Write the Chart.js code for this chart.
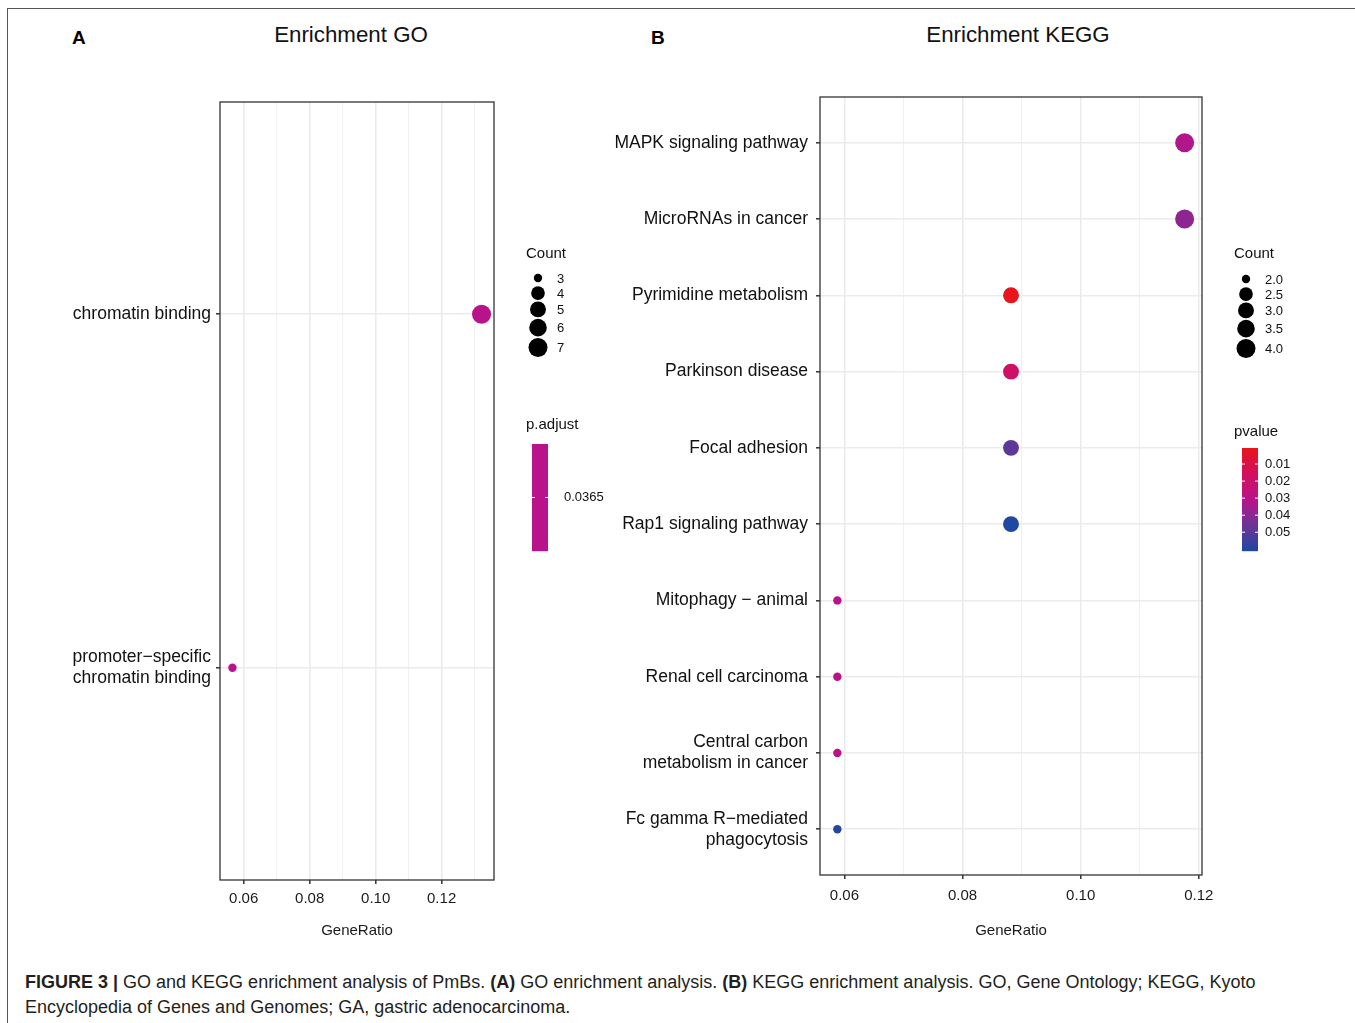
<!DOCTYPE html>
<html>
<head>
<meta charset="utf-8">
<script src="https://cdn.jsdelivr.net/npm/chart.js@4.4.0/dist/chart.umd.min.js"></script>
<style>
  html, body { margin: 0; padding: 0; background: #fff; }
  #page { position: relative; width: 1355px; height: 1023px; overflow: hidden;
          font-family: "Liberation Sans", Arial, sans-serif; color: #111; }
  #frame { position: absolute; left: 7px; top: 8px; right: -2px; bottom: -2px;
           border-top: 1.5px solid #555; border-left: 1.5px solid #555; }
  canvas { position: absolute; top: 0; }
  .title { position: absolute; font-size: 22.3px; transform: translate(-50%, -50%); white-space: nowrap; color: #111; }
  .tag { position: absolute; font-size: 19px; font-weight: bold; transform: translateY(-50%); color: #000; }
  .cap { position: absolute; left: 25px; font-size: 18px; white-space: nowrap; transform: translateY(-50%); color: #231f20; }
</style>
</head>
<body>
<div id="page">
  <div id="frame"></div>
  <div class="tag" style="left:72px; top:38px;">A</div>
  <div class="title" style="left:351px; top:35px;">Enrichment GO</div>
  <div class="tag" style="left:651px; top:38px;">B</div>
  <div class="title" style="left:1018px; top:35px;">Enrichment KEGG</div>
  <canvas id="goChart" style="left:0px;" width="640" height="960"></canvas>
  <canvas id="keggChart" style="left:590px;" width="765" height="960"></canvas>
  <div class="cap" style="top:982px;"><b>FIGURE 3 |</b> GO and KEGG enrichment analysis of PmBs. <b>(A)</b> GO enrichment analysis. <b>(B)</b> KEGG enrichment analysis. GO, Gene Ontology; KEGG, Kyoto</div>
  <div class="cap" style="top:1007px;">Encyclopedia of Genes and Genomes; GA, gastric adenocarcinoma.</div>
</div>

<script>
// ---- GO enrichment ----
const goTerms = ['chromatin binding', ['promoter\u2212specific', 'chromatin binding']];
const goRatio = [0.1321, 0.0566];
const goCount = [7, 3];
const goPadj = [0.0365, 0.0365];
const goCountBreaks = [3, 4, 5, 6, 7];
const goColorBreaks = [0.0365];

// ---- KEGG enrichment ----
const keggTerms = [
  'MAPK signaling pathway',
  'MicroRNAs in cancer',
  'Pyrimidine metabolism',
  'Parkinson disease',
  'Focal adhesion',
  'Rap1 signaling pathway',
  'Mitophagy \u2212 animal',
  'Renal cell carcinoma',
  ['Central carbon', 'metabolism in cancer'],
  ['Fc gamma R\u2212mediated', 'phagocytosis']
];
const keggRatio = [0.1176, 0.1176, 0.0882, 0.0882, 0.0882, 0.0882, 0.0588, 0.0588, 0.0588, 0.0588];
const keggCount = [4, 4, 3, 3, 3, 3, 2, 2, 2, 2];
const keggPvalue = [0.0320, 0.0393, 0.0006, 0.0187, 0.0489, 0.0610, 0.0296, 0.0302, 0.0302, 0.0598];
const keggCountBreaks = [2.0, 2.5, 3.0, 3.5, 4.0];
const keggColorBreaks = [0.01, 0.02, 0.03, 0.04, 0.05];

// GeneRatio tick values: even hundredths are labelled, odd ones are minor grid lines
const goXGrid = [0.06, 0.07, 0.08, 0.09, 0.10, 0.11, 0.12, 0.13];
const keggXGrid = [0.06, 0.07, 0.08, 0.09, 0.10, 0.11, 0.12];

// low p-value = red, high = blue
const rampStops = ['#E8141E', '#D3105E', '#B8138A', '#6E3496', '#1F48A0'];
function hexToRgb(h) { return [1, 3, 5].map(i => parseInt(h.slice(i, i + 2), 16)); }
function rampColor(t) {
  t = Math.max(0, Math.min(1, t));
  const seg = (rampStops.length - 1) * t;
  const i = Math.min(Math.floor(seg), rampStops.length - 2);
  const f = seg - i;
  const a = hexToRgb(rampStops[i]), b = hexToRgb(rampStops[i + 1]);
  return 'rgb(' + a.map((v, k) => Math.round(v + (b[k] - v) * f)).join(',') + ')';
}

// point radius grows with sqrt of the rescaled count
function sizeScale(lo, hi) {
  return c => 4.2 + Math.sqrt(hi > lo ? (c - lo) / (hi - lo) : 1) * 5.3;
}

const AXIS_FONT = 'Liberation Sans';
const isMajor = v => Math.round(v * 100) % 2 === 0;

// panel border on all four sides
const panelBorder = {
  id: 'panelBorder',
  afterDraw(chart) {
    const { ctx, chartArea: a } = chart;
    ctx.save();
    ctx.strokeStyle = '#333';
    ctx.lineWidth = 1.3;
    ctx.strokeRect(a.left, a.top, a.right - a.left, a.bottom - a.top);
    ctx.restore();
  }
};

// size legend + colour bar to the right of the panel
const sideLegend = {
  id: 'sideLegend',
  afterDraw(chart, args, o) {
    const { ctx, chartArea: a } = chart;
    const x0 = a.right;
    ctx.save();
    ctx.fillStyle = '#111';
    ctx.textBaseline = 'middle';
    ctx.textAlign = 'left';
    // size legend
    ctx.font = '15px ' + AXIS_FONT;
    ctx.fillText('Count', x0 + 32, o.countTitleY);
    let y = o.countStartY, prevH = null;
    o.countBreaks.forEach(b => {
      const r = o.radius(b);
      const h = Math.max(15, 2 * r + 1.5);
      if (prevH !== null) y += (prevH + h) / 2;
      prevH = h;
      ctx.fillStyle = '#000';
      ctx.beginPath();
      ctx.arc(x0 + 44, y, r, 0, Math.PI * 2);
      ctx.fill();
      ctx.fillStyle = '#111';
      ctx.font = '13px ' + AXIS_FONT;
      ctx.fillText(o.countFormat(b), x0 + 63, y + 1);
    });
    // colour bar
    ctx.font = '15px ' + AXIS_FONT;
    ctx.fillText(o.colorTitle, x0 + 32, o.colorTitleY);
    const bx = x0 + o.barOffset, bw = 16, by = o.barTop, bh = o.barBottom - o.barTop;
    for (let i = 0; i < bh; i++) {
      const t = o.pmax > o.pmin ? i / (bh - 1) : 0.5;
      ctx.fillStyle = rampColor(t);
      ctx.fillRect(bx, by + i, bw, 1.2);
    }
    ctx.font = '13px ' + AXIS_FONT;
    o.colorBreaks.forEach(v => {
      const t = o.pmax > o.pmin ? (v - o.pmin) / (o.pmax - o.pmin) : 0.5;
      const ty = by + t * bh;
      ctx.strokeStyle = '#fff';
      ctx.lineWidth = 1;
      ctx.beginPath();
      ctx.moveTo(bx, ty); ctx.lineTo(bx + 3, ty);
      ctx.moveTo(bx + bw - 3, ty); ctx.lineTo(bx + bw, ty);
      ctx.stroke();
      ctx.fillStyle = '#111';
      ctx.fillText(o.colorFormat(v), x0 + o.colorLabelOffset, ty);
    });
    ctx.restore();
  }
};

function dotPlot(canvasId, cfg) {
  const { terms, ratio, count, pv, xGrid, padding, yPad, yWidth, xHeight } = cfg;
  const n = terms.length;
  const radius = sizeScale(Math.min(...count), Math.max(...count));
  const pmin = Math.min(...pv), pmax = Math.max(...pv);
  const colorOf = p => rampColor(pmax > pmin ? (p - pmin) / (pmax - pmin) : 0.5);
  const lo = Math.min(...ratio), hi = Math.max(...ratio), ex = (hi - lo) * 0.05;

  return new Chart(document.getElementById(canvasId), {
    type: 'scatter',
    data: {
      datasets: [{
        data: ratio.map((x, i) => ({ x, y: i })),
        pointRadius: count.map(radius),
        pointHoverRadius: count.map(radius),
        backgroundColor: pv.map(colorOf),
        borderWidth: 0,
        clip: false
      }]
    },
    options: {
      responsive: false,
      animation: false,
      events: [],
      layout: { padding },
      plugins: {
        legend: { display: false },
        tooltip: { enabled: false },
        sideLegend: {
          radius,
          countBreaks: cfg.countBreaks,
          countFormat: cfg.countFormat,
          countTitleY: 254,
          countStartY: cfg.countStartY,
          colorTitle: cfg.colorTitle,
          colorTitleY: cfg.colorTitleY,
          barTop: cfg.barTop,
          barBottom: cfg.barBottom,
          barOffset: cfg.barOffset,
          colorLabelOffset: cfg.colorLabelOffset,
          colorBreaks: cfg.colorBreaks,
          colorFormat: cfg.colorFormat,
          pmin, pmax
        }
      },
      scales: {
        x: {
          type: 'linear',
          bounds: 'data',
          min: lo - ex,
          max: hi + ex,
          afterBuildTicks: s => { s.ticks = xGrid.map(v => ({ value: v })); },
          afterFit: s => { s.height = xHeight; },
          border: { display: false },
          grid: {
            color: c => (c.tick && isMajor(c.tick.value)) ? '#EBEBEB' : '#F1F1F1',
            lineWidth: c => (c.tick && isMajor(c.tick.value)) ? 1.6 : 1.1,
            tickLength: 4,
            tickColor: c => (c.tick && isMajor(c.tick.value)) ? '#333' : 'rgba(0,0,0,0)',
            tickWidth: 1.5
          },
          ticks: {
            autoSkip: false,
            maxRotation: 0,
            padding: cfg.xTickPad,
            color: '#1a1a1a',
            font: { family: AXIS_FONT, size: 15 },
            callback: v => isMajor(v) ? v.toFixed(2) : ''
          },
          title: {
            display: true,
            text: 'GeneRatio',
            color: '#1a1a1a',
            font: { family: AXIS_FONT, size: 15 },
            padding: { top: 0, bottom: 10 }
          }
        },
        y: {
          type: 'linear',
          bounds: 'data',
          reverse: true,
          min: -0.6,
          max: n - 1 + 0.6,
          afterBuildTicks: s => { s.ticks = terms.map((_, i) => ({ value: i })); },
          afterFit: s => { s.width = yWidth; },
          border: { display: false },
          grid: {
            color: '#EBEBEB',
            lineWidth: 1.6,
            tickLength: 4,
            tickColor: '#333',
            tickWidth: 1.5
          },
          ticks: {
            autoSkip: false,
            padding: yPad,
            color: '#111',
            font: { family: AXIS_FONT, size: 17.5 },
            callback: v => terms[Math.round(v)]
          }
        }
      }
    },
    plugins: [panelBorder, sideLegend]
  });
}

// GO panel: plot area 220..494 x 102..880
dotPlot('goChart', {
  terms: goTerms, ratio: goRatio, count: goCount, pv: goPadj, xGrid: goXGrid,
  padding: { left: 10, right: 146, top: 102, bottom: 10 },
  yWidth: 210, xHeight: 70, yPad: 5, xTickPad: 6,
  countBreaks: goCountBreaks, countFormat: v => String(v), countStartY: 278,
  colorTitle: 'p.adjust', colorTitleY: 425, barTop: 444, barBottom: 551,
  barOffset: 38, colorLabelOffset: 70,
  colorBreaks: goColorBreaks, colorFormat: v => v.toFixed(4)
});

// KEGG panel: plot area 820..1202 x 97..875 (canvas starts at x = 590)
dotPlot('keggChart', {
  terms: keggTerms, ratio: keggRatio, count: keggCount, pv: keggPvalue, xGrid: keggXGrid,
  padding: { left: 10, right: 153, top: 97, bottom: 10 },
  yWidth: 220, xHeight: 75, yPad: 8, xTickPad: 8,
  countBreaks: keggCountBreaks, countFormat: v => v.toFixed(1), countStartY: 279,
  colorTitle: 'pvalue', colorTitleY: 432, barTop: 448, barBottom: 551,
  barOffset: 40, colorLabelOffset: 63,
  colorBreaks: keggColorBreaks, colorFormat: v => v.toFixed(2)
});
</script>
</body>
</html>
